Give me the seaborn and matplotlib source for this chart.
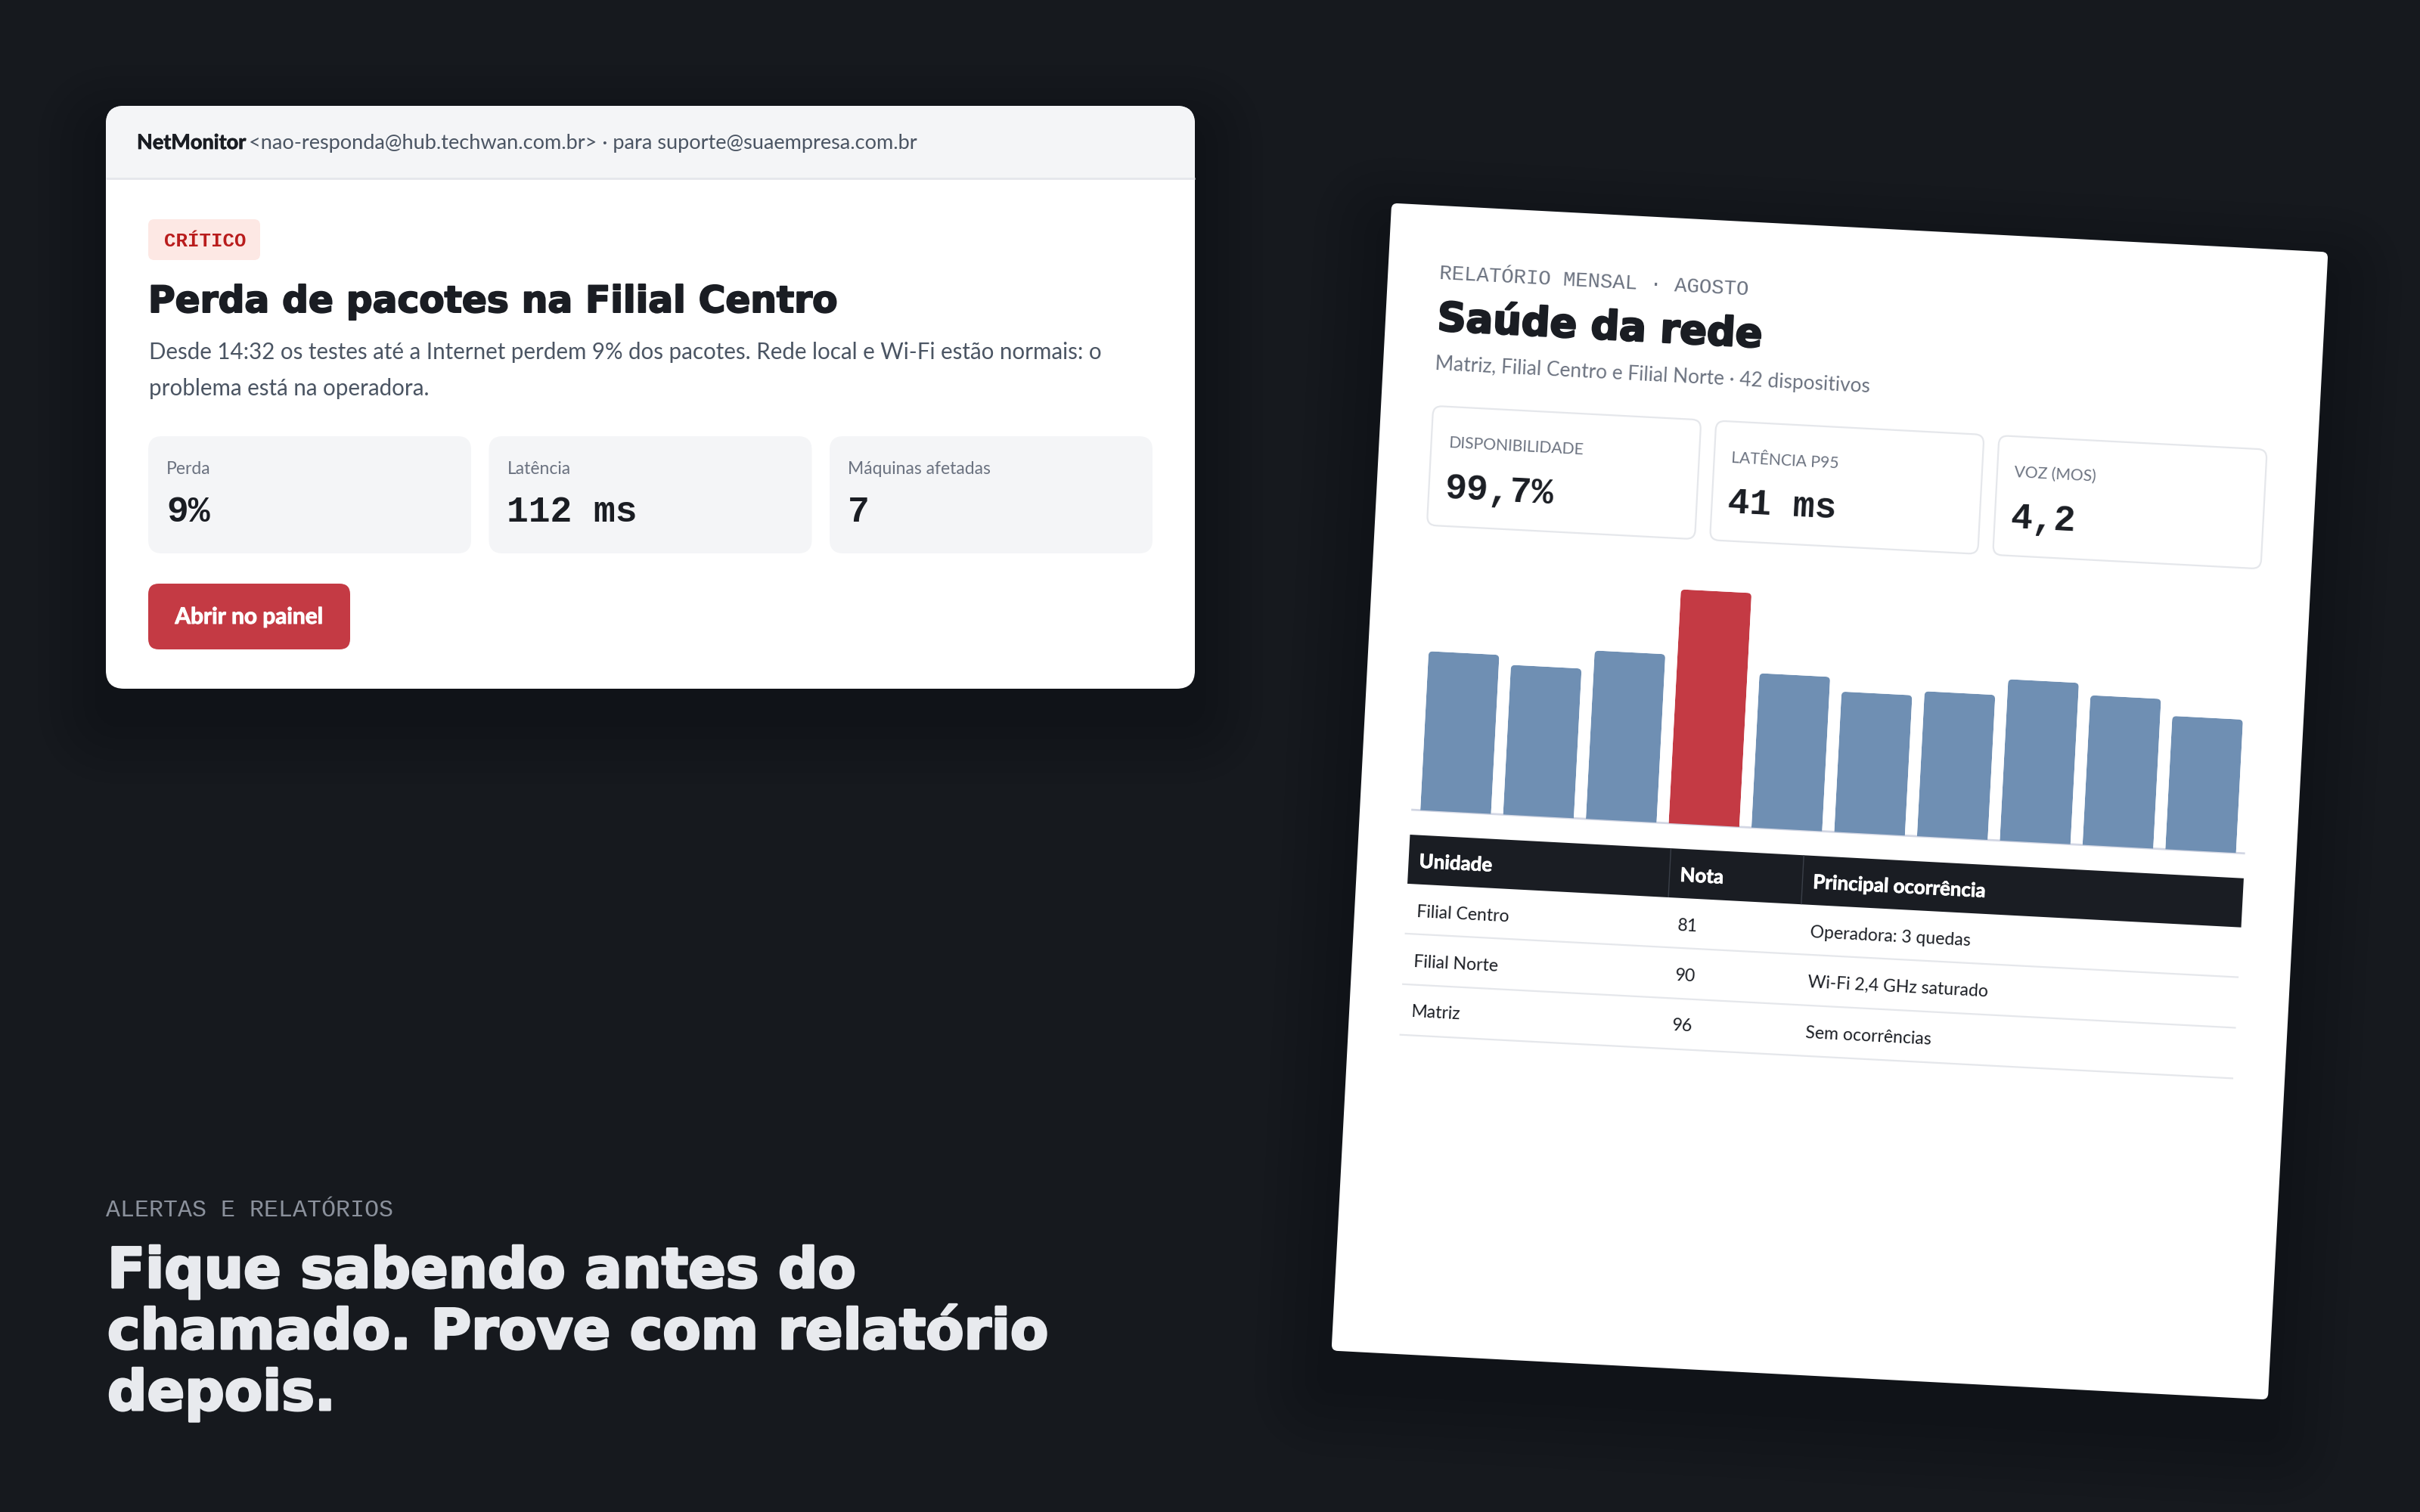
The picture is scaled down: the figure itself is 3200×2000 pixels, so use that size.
import matplotlib
matplotlib.use("Agg")
import matplotlib.pyplot as plt
import matplotlib.patheffects as pe
import seaborn as sns
from matplotlib.font_manager import FontProperties
from matplotlib.patches import FancyBboxPatch
from matplotlib.textpath import TextPath
from matplotlib.transforms import Affine2D

# Data
bar_names = ["S1", "S2", "S3", "S4", "S5", "S6", "S7", "S8", "S9", "S10"]
bar_values = [68, 64, 72, 100, 66, 60, 62, 69, 64, 57]
bar_colors = ["#6f8fb3", "#6f8fb3", "#6f8fb3", "#c43a44", "#6f8fb3",
              "#6f8fb3", "#6f8fb3", "#6f8fb3", "#6f8fb3", "#6f8fb3"]

alert_labels = ["Perda", "Latência", "Máquinas afetadas"]
alert_values = ["9%", "112 ms", "7"]

report_labels = ["DISPONIBILIDADE", "LATÊNCIA P95", "VOZ (MOS)"]
report_values = ["99,7%", "41 ms", "4,2"]

table_head = ["Unidade", "Nota", "Principal ocorrência"]
table_units = ["Filial Centro", "Filial Norte", "Matriz"]
table_scores = ["81", "90", "96"]
table_events = ["Operadora: 3 quedas", "Wi-Fi 2,4 GHz saturado", "Sem ocorrências"]

headline = ["Fique sabendo antes do", "chamado. Prove com relatório", "depois."]

BG = "#16191e"
INK = "#1a1d23"
GREY = "#4b5563"
MUTED = "#6b7280"
LINE = "#e5e7eb"
PANEL = "#f4f5f7"
RED = "#c43a44"

SANS = "Lato"
MONO = "Liberation Mono"
WIDE = "DejaVu Sans"

# report card centre and tilt
CX, CY, TILT = 2419.5, 1060, 3

sns.set_theme(style="white")
fig = plt.figure(figsize=(16, 10), dpi=200, facecolor=BG)

page = fig.add_axes([0, 0, 1, 1])
page.set_xlim(0, 3200)
page.set_ylim(2000, 0)
page.axis("off")

flat = page.transData
tilted = Affine2D().rotate_deg_around(CX, CY, TILT) + page.transData


def fit(s, family, weight, width):
    # font size in image pixels so that s is about width pixels wide
    fp = FontProperties(family=family, weight=weight)
    return 100 * width / TextPath((0, 0), s, size=100, prop=fp).get_extents().width


def label(x, y, s, px, color, family=SANS, weight="normal", tr=flat, ha="left", heavy=0):
    t = page.text(x, y, s, fontsize=px * 72 / 200, color=color, family=family, weight=weight,
                  transform=tr, rotation=-TILT if tr is tilted else 0,
                  rotation_mode="anchor", ha=ha, va="baseline", zorder=6)
    if heavy:
        # the installed bold faces are lighter than the original, so thicken them a little
        t.set_path_effects([pe.withStroke(linewidth=heavy * 72 / 200, foreground=color)])


def box(x, y, w, h, r, face, edge="none", lw=0, tr=flat, z=2):
    p = FancyBboxPatch((x, y), w, h, boxstyle=f"round,pad=0,rounding_size={r}",
                       facecolor=face, edgecolor=edge, linewidth=lw, transform=tr, zorder=z)
    page.add_patch(p)
    return p


def rule(x0, y0, x1, y1, color, lw, tr=flat, z=3):
    page.plot([x0, x1], [y0, y1], color=color, linewidth=lw, transform=tr, zorder=z,
              solid_capstyle="butt")


def shadow(x, y, w, h, r, drop, blur, tr=flat):
    # few layers: each one takes about one colour level off the dark background
    for i in range(6):
        g = blur * (1 - i / 6)
        box(x - g, y + drop - g, w + 2 * g, h + 2 * g, r + g, "#000000", tr=tr, z=1).set_alpha(0.02)


# Alert email card
shadow(140, 140, 1440, 771, 24, 36, 90)
box(140, 140, 1440, 771, 24, "white")
header = box(140, 140, 1440, 120, 24, PANEL, z=3)
header.set_clip_path(box(140, 140, 1440, 96, 0, "none", z=0))
box(140, 212, 1440, 24, 0, PANEL, z=3)
rule(140, 236, 1580, 236, LINE, 1.0)

label(181, 197, "NetMonitor", fit("NetMonitor", SANS, "bold", 142), INK, weight="bold", heavy=0.8)
s = "<nao-responda@hub.techwan.com.br> · para suporte@suaempresa.com.br"
label(329, 197, s, fit(s, SANS, "normal", 883), GREY)

box(196, 290, 148, 54, 8, "#fde8e4")
label(217, 326, "CRÍTICO", 25.7, "#b91c1c", family=MONO, weight="bold")

s = "Perda de pacotes na Filial Centro"
label(196, 413, s, fit(s, WIDE, "bold", 905), INK, family=WIDE, weight="bold", heavy=2)

s = "Desde 14:32 os testes até a Internet perdem 9% dos pacotes. Rede local e Wi-Fi estão normais: o"
body_px = fit(s, SANS, "normal", 1258)
label(197, 475, s, body_px, GREY)
label(197, 523, "problema está na operadora.", body_px, GREY)

small_px = fit(alert_labels[2], SANS, "normal", 186)
for i in range(3):
    x0 = 196 + i * 450.5
    box(x0, 577, 427, 155, 18, PANEL)
    label(x0 + 24, 627, alert_labels[i], small_px, MUTED)
    label(x0 + 24, 690, alert_values[i], 48, INK, family=MONO, weight="bold")

box(196, 772, 267, 87, 14, RED)
label(329.5, 825, "Abrir no painel", fit("Abrir no painel", SANS, "bold", 194), "white",
      weight="bold", ha="center", heavy=1)

# Bottom-left headline
s = "ALERTAS E RELATÓRIOS"
label(140, 1609, s, fit(s, MONO, "normal", 379), "#8b919c", family=MONO)
head_px = fit(headline[1], WIDE, "bold", 1238)
for i, line in enumerate(headline):
    label(142, 1703 + i * 81, line, head_px, "#e8eaee", family=WIDE, weight="bold", heavy=3)

# Report card, laid out flat and tilted around its centre
shadow(1799.5, 300, 1240, 1520, 8, 40, 100, tr=tilted)
box(1799.5, 300, 1240, 1520, 8, "white", tr=tilted)

s = "RELATÓRIO MENSAL · AGOSTO"
label(1868, 397, s, fit(s, MONO, "normal", 408), MUTED, family=MONO, tr=tilted)
label(1868, 465, "Saúde da rede", fit("Saúde da rede", WIDE, "bold", 424), INK,
      family=WIDE, weight="bold", tr=tilted, heavy=2.5)
s = "Matriz, Filial Centro e Filial Norte · 42 dispositivos"
label(1868, 517, s, fit(s, SANS, "normal", 570), MUTED, tr=tilted)

caps_px = fit(report_labels[0], SANS, "normal", 178)
for i in range(3):
    x0 = 1867.5 + i * 374.67
    box(x0 + 1, 565, 354.67, 158, 12, "white", edge=LINE, lw=0.8, tr=tilted)
    label(x0 + 24, 619, report_labels[i], caps_px, MUTED, tr=tilted)
    label(x0 + 22, 686, report_values[i], 48, INK, family=MONO, weight="bold", tr=tilted)

# Bars: seaborn on a flat axes, then tilted with the card
bars_ax = fig.add_axes([1867.5 / 3200, 1 - 1100 / 2000, 1104 / 3200, 320 / 2000])
sns.barplot(x=bar_names, y=bar_values, hue=bar_names, palette=bar_colors, width=0.854,
            saturation=1, legend=False, linewidth=0, ax=bars_ax)
bars_ax.set_xlim(-0.536, 9.536)
bars_ax.set_ylim(0, 103.3)
bars_ax.axis("off")
bars_ax.patch.set_alpha(0)
turn = Affine2D().rotate_deg_around(CX, 2000 - CY, -TILT)
to_page = bars_ax.transData + page.transData.inverted()
for bar in bars_ax.patches:
    # rounded top corners from a clip shape laid over the bar
    (x0, y0), (x1, y1) = to_page.transform([(bar.get_x(), 0),
                                            (bar.get_x() + bar.get_width(), bar.get_height())])
    clip = FancyBboxPatch((x0, y1), x1 - x0, y0 - y1 + 20, boxstyle="round,pad=0,rounding_size=6",
                          transform=tilted)
    bar.set_transform(bars_ax.transData + turn)
    bar.set_clip_box(None)
    bar.set_clip_path(clip)

rule(1867.5, 1100, 2971.5, 1100, "#d3d7e4", 1.0, tr=tilted, z=5)

# Table
cols = [1867.5, 2213, 2389, 2971.5]
rows = [1198, 1264, 1331, 1398]
box(cols[0], 1133, cols[3] - cols[0], 65, 0, INK, tr=tilted)
for x in cols[1:3]:
    rule(x, 1133, x, 1198, "#3a3f48", 0.5, tr=tilted, z=4)
head_size = fit(table_head[2], SANS, "bold", 225)
for x, name in zip(cols, table_head):
    label(x + 14, 1176, name, head_size, "white", weight="bold", tr=tilted, heavy=0.8)
cell_size = fit(table_events[1], SANS, "normal", 238)
for i in range(3):
    y = rows[i] + 43
    label(cols[0] + 14, y, table_units[i], cell_size, INK, tr=tilted)
    label(cols[1] + 14, y, table_scores[i], cell_size, INK, tr=tilted)
    label(cols[2] + 14, y, table_events[i], cell_size, INK, tr=tilted)
    rule(cols[0], rows[i + 1], cols[3], rows[i + 1], LINE, 0.8, tr=tilted)

fig.savefig("out.png", dpi=200, facecolor=BG)
